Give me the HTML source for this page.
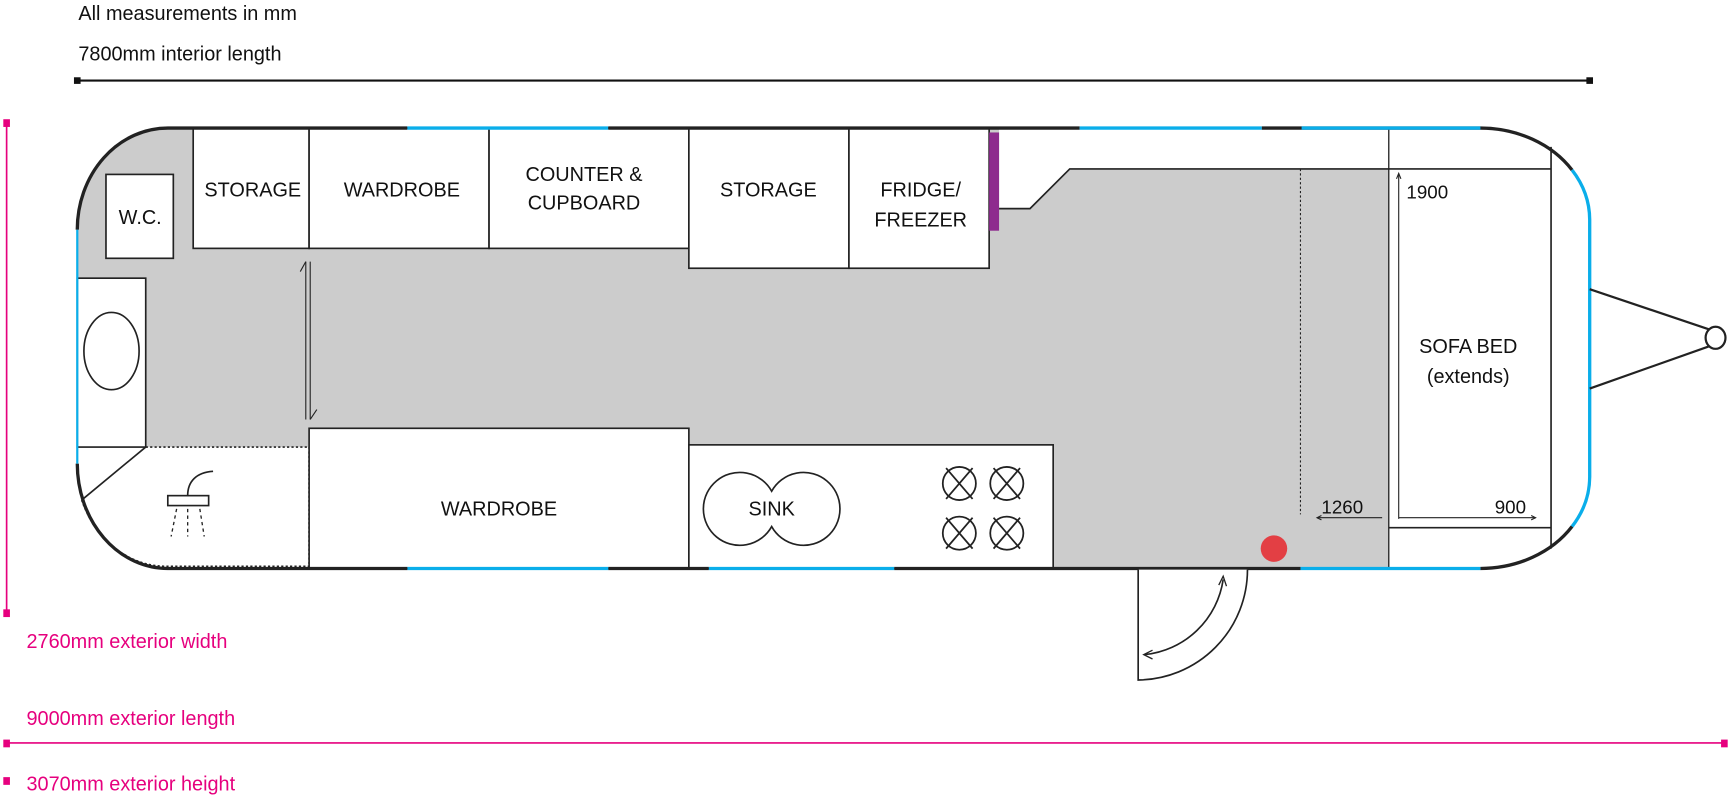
<!DOCTYPE html>
<html><head><meta charset="utf-8"><style>
html,body{margin:0;padding:0;background:#fff;}
svg{display:block;}
text{font-family:"Liberation Sans",sans-serif;}
</style></head><body>
<svg width="1731" height="797" viewBox="0 0 1568 722" preserveAspectRatio="none" xmlns="http://www.w3.org/2000/svg">
<text x="71" y="18" font-size="18" fill="#111">All measurements in mm</text>
<text x="71" y="55" font-size="18" fill="#111">7800mm interior length</text>
<line x1="70" y1="73" x2="1440" y2="73" stroke="#111" stroke-width="2"/>
<rect x="67" y="70" width="6" height="6" fill="#111"/>
<rect x="1437" y="70" width="6" height="6" fill="#111"/>
<line x1="6" y1="111" x2="6" y2="557" stroke="#e6007e" stroke-width="1.5"/>
<rect x="3" y="108" width="6" height="7" fill="#e6007e"/>
<rect x="3" y="552" width="6" height="7" fill="#e6007e"/>
<text x="24" y="587" font-size="18" fill="#e6007e">2760mm exterior width</text>
<text x="24" y="657" font-size="18" fill="#e6007e">9000mm exterior length</text>
<line x1="6" y1="673" x2="1562" y2="673" stroke="#e6007e" stroke-width="1.5"/>
<rect x="3" y="670" width="6" height="7" fill="#e6007e"/>
<rect x="1559" y="670" width="6" height="7" fill="#e6007e"/>
<rect x="3" y="704" width="6" height="7" fill="#e6007e"/>
<text x="24" y="716" font-size="18" fill="#e6007e">3070mm exterior height</text>

<path d="M152,116 L1341,116 A99,83 0 0 1 1440,199 L1440,432 A99,83 0 0 1 1341,515 L152,515 A82,95 0 0 1 70,420 L70,208 A82,92 0 0 1 152,116 Z" fill="#cccccc"/>
<path d="M905,116 L1405,116 L1405,153 L969,153 L933,189 L905,189 Z" fill="#fff"/>
<path d="M1258,116 L1341,116 A99,83 0 0 1 1440,199 L1440,432 A99,83 0 0 1 1341,515 L1258,515 Z" fill="#fff"/>
<path d="M70,405 L280,405 L280,515 L152,515 A82,95 0 0 1 70,420 Z" fill="#fff"/>
<rect x="70" y="252" width="62" height="153" fill="#fff" stroke="#222" stroke-width="1.5"/>
<ellipse cx="101" cy="318" rx="25" ry="35" fill="#fff" stroke="#222" stroke-width="1.5"/>
<line x1="132" y1="405" x2="74" y2="453" stroke="#222" stroke-width="1.5"/>
<path d="M132,405 L280,405 L280,515" fill="none" stroke="#222" stroke-width="1.5" stroke-dasharray="2,2"/>
<path d="M74,453 A82,95 0 0 0 152,513 L280,513" fill="none" stroke="#222" stroke-width="1.5" stroke-dasharray="2,2"/>

<g fill="#fff" stroke="#222" stroke-width="1.5">
<rect x="96" y="158" width="61" height="76"/>
<rect x="175" y="116" width="105" height="109"/>
<rect x="280" y="116" width="163" height="109"/>
<rect x="443" y="116" width="181" height="109"/>
<rect x="624" y="116" width="145" height="127"/>
<rect x="769" y="116" width="127" height="127"/>
<rect x="280" y="388" width="344" height="127"/>
<rect x="624" y="403" width="330" height="112"/>
</g>
<rect x="896" y="120" width="9" height="89" fill="#8e2b8e"/>
<path d="M905,189 L933,189 L969,153 L1405,153" fill="none" stroke="#222" stroke-width="1.5"/>
<line x1="1258" y1="116" x2="1258" y2="515" stroke="#222" stroke-width="1.2"/>
<line x1="1405" y1="133" x2="1405" y2="497" stroke="#222" stroke-width="1.5"/>
<line x1="1258" y1="478" x2="1405" y2="478" stroke="#222" stroke-width="1.5"/>
<line x1="1178" y1="153" x2="1178" y2="466" stroke="#222" stroke-width="1" stroke-dasharray="2,2"/>

<line x1="277" y1="237" x2="277" y2="380" stroke="#222" stroke-width="1"/>
<line x1="281" y1="237" x2="281" y2="380" stroke="#222" stroke-width="1"/>
<line x1="277" y1="237" x2="272" y2="246" stroke="#222" stroke-width="1"/>
<line x1="281" y1="380" x2="287" y2="371" stroke="#222" stroke-width="1"/>

<rect x="152" y="449" width="37" height="9" fill="#fff" stroke="#222" stroke-width="1.5"/>
<path d="M170,449 C170,436 178,428 193,427" fill="none" stroke="#222" stroke-width="1.5"/>
<g stroke="#222" stroke-width="1.2" stroke-dasharray="3,3">
<line x1="160" y1="461" x2="155" y2="486"/><line x1="170" y1="461" x2="170" y2="486"/><line x1="181" y1="461" x2="185" y2="486"/>
</g>

<path d="M699,445 A33,33 0 1 0 699,477 A33,33 0 1 0 699,445 Z" fill="#fff" stroke="#222" stroke-width="1.5"/>
<g fill="none" stroke="#222" stroke-width="1.6">
<circle cx="869" cy="438" r="15"/><circle cx="912" cy="438" r="15"/><circle cx="869" cy="483" r="15"/><circle cx="912" cy="483" r="15"/>
<path d="M857,424 L881,452 M881,424 L857,452 M900,424 L924,452 M924,424 L900,452 M857,469 L881,497 M881,469 L857,497 M900,469 L924,497 M924,469 L900,497"/>
</g>

<g fill="none" stroke-width="3">
<path d="M1424,154 A99,83 0 0 0 1341,116 L1179,116" stroke="#222"/>
<path d="M1179,116 L1341,116" stroke="#0aaeea"/>
<path d="M1424,154 A99,83 0 0 1 1440,199 L1440,432 A99,83 0 0 1 1424,477" stroke="#0aaeea"/>
<path d="M1424,477 A99,83 0 0 1 1341,515" stroke="#222"/>
<path d="M1178,515 L1341,515" stroke="#0aaeea"/>
<path d="M810,515 L1178,515" stroke="#222"/>
<path d="M642,515 L810,515" stroke="#0aaeea"/>
<path d="M551,515 L642,515" stroke="#222"/>
<path d="M369,515 L551,515" stroke="#0aaeea"/>
<path d="M369,515 L152,515 A82,95 0 0 1 70,420" stroke="#222"/>
<path d="M70,420 L70,208" stroke="#0aaeea" stroke-width="2"/>
<path d="M70,208 A82,92 0 0 1 152,116 L369,116" stroke="#222"/>
<path d="M369,116 L551,116" stroke="#0aaeea"/>
<path d="M551,116 L978,116" stroke="#222"/>
<path d="M978,116 L1143,116" stroke="#0aaeea"/>
<path d="M1143,116 L1179,116" stroke="#222"/>
</g>

<path d="M1031,516 L1031,616 A100,100 0 0 0 1130,516" fill="#fff" stroke="#222" stroke-width="1.5"/>
<path d="M1108,525 A80,80 0 0 1 1037,593" fill="none" stroke="#222" stroke-width="1.5"/>
<path d="M1104,530 L1108,522 L1111,531 M1044,589 L1036,593 L1044,597" fill="none" stroke="#222" stroke-width="1.2"/>
<circle cx="1154" cy="497" r="12" fill="#e33f44"/>

<line x1="1267" y1="158" x2="1267" y2="470" stroke="#222" stroke-width="1"/>
<path d="M1265,162 L1267,157 L1269,162" fill="none" stroke="#222"/>
<line x1="1267" y1="469" x2="1391" y2="469" stroke="#222" stroke-width="1"/>
<path d="M1387,467 L1391,469 L1387,471" fill="none" stroke="#222"/>
<line x1="1193" y1="469" x2="1252" y2="469" stroke="#222" stroke-width="1"/>
<path d="M1197,467 L1193,469 L1197,471" fill="none" stroke="#222"/>

<path d="M1440,262 L1553,300 M1440,352 L1553,312" stroke="#222" stroke-width="2" fill="none"/>
<ellipse cx="1554" cy="306" rx="9" ry="10" fill="#fff" stroke="#222" stroke-width="2"/>

<g font-size="18" fill="#111" text-anchor="middle">
<text x="127" y="203">W.C.</text>
<text x="229" y="178">STORAGE</text>
<text x="364" y="178">WARDROBE</text>
<text x="529" y="164">COUNTER &amp;</text>
<text x="529" y="190">CUPBOARD</text>
<text x="696" y="178">STORAGE</text>
<text x="834" y="178">FRIDGE/</text>
<text x="834" y="205">FREEZER</text>
<text x="452" y="467">WARDROBE</text>
<text x="699" y="467">SINK</text>
<text x="1330" y="320">SOFA BED</text>
<text x="1330" y="347">(extends)</text>
</g>
<g font-size="17" fill="#111">
<text x="1274" y="180">1900</text>
<text x="1197" y="465">1260</text>
<text x="1354" y="465">900</text>
</g>
</svg>
</body></html>
